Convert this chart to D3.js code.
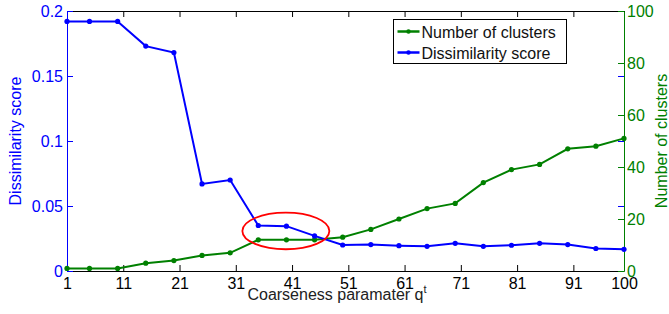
<!DOCTYPE html>
<html>
<head>
<meta charset="utf-8">
<script src="https://cdn.jsdelivr.net/npm/d3@7"></script>
<style>
  body { margin: 0; background: #fff; }
  svg text { font-family: "Liberation Sans", Arial, sans-serif; }
</style>
</head>
<body>
<div id="chart"></div>
<script>
// coarseness parameter values (x)
var qValues = [1, 5, 10, 15, 20, 25, 30, 35, 40, 45, 50, 55, 60, 65, 70, 75, 80, 85, 90, 95, 100];
// dissimilarity score (left axis)
var dissimilarity = [0.192, 0.192, 0.192, 0.173, 0.168, 0.067, 0.070, 0.035, 0.0345, 0.027, 0.020, 0.0203,
  0.0195, 0.019, 0.0213, 0.019, 0.0198, 0.0213, 0.0203, 0.0173, 0.0167];
// number of clusters (right axis)
var clusters = [1, 1, 1, 3, 4, 6, 7, 12, 12, 12, 13, 16, 20, 24, 26, 34, 39, 41, 47, 48, 51];

var xTicks = [1, 11, 21, 31, 41, 51, 61, 71, 81, 91, 100];
var leftTicks = [0, 0.05, 0.1, 0.15, 0.2];
var rightTicks = [0, 20, 40, 60, 80, 100];

var W = 669, H = 314;
var m = {left: 67, top: 11, right: 45, bottom: 43};
var w = W - m.left - m.right;
var h = H - m.top - m.bottom;

var blue = "#0000ff", green = "#008000";

var svg = d3.select("#chart").append("svg")
  .attr("width", W).attr("height", H);
var g = svg.append("g").attr("transform", "translate(" + m.left + "," + m.top + ")");

var x = d3.scaleLinear().domain([1, 100]).range([0, w]);
var yL = d3.scaleLinear().domain([0, 0.2]).range([h, 0]);
var yR = d3.scaleLinear().domain([0, 100]).range([h, 0]);

function styleAxis(sel, color) {
  sel.select(".domain").attr("stroke", color).attr("stroke-width", 1);
  sel.selectAll(".tick line").attr("stroke", color);
  sel.selectAll(".tick text").attr("fill", color).attr("font-size", 16)
    .attr("font-family", "Liberation Sans, Arial, sans-serif");
}

// top border with ticks
var topAxis = g.append("g")
  .call(d3.axisBottom(x).tickValues(xTicks).tickSize(6).tickSizeOuter(0).tickFormat(""));
styleAxis(topAxis, "#000");

// bottom axis
var bottomAxis = g.append("g").attr("transform", "translate(0," + h + ")")
  .call(d3.axisTop(x).tickValues(xTicks).tickSize(6).tickSizeOuter(0));
styleAxis(bottomAxis, "#000");
bottomAxis.selectAll(".tick text").attr("y", 18).attr("dy", 0);

// left axis mirrored on the right side
var leftMirror = g.append("g").attr("transform", "translate(" + w + ",0)")
  .call(d3.axisLeft(yL).tickValues(leftTicks).tickSize(6).tickSizeOuter(0).tickFormat(""));
styleAxis(leftMirror, blue);
leftMirror.select(".domain").remove();

// right axis
var rightAxis = g.append("g").attr("transform", "translate(" + w + ",0)")
  .call(d3.axisRight(yR).tickValues(rightTicks).tickSize(-6).tickSizeOuter(0).tickPadding(3));
styleAxis(rightAxis, green);
rightAxis.selectAll(".tick text").attr("x", 3);

// left axis
var leftAxis = g.append("g")
  .call(d3.axisRight(yL).tickValues(leftTicks).tickSize(6).tickSizeOuter(0)
    .tickFormat(function(d) { return d === 0 ? "0" : String(d); }));
styleAxis(leftAxis, blue);
leftAxis.selectAll(".tick text").attr("x", -4).attr("text-anchor", "end");

// lines
var lineL = d3.line().x(function(d, i) { return x(qValues[i]); }).y(function(d) { return yL(d); });
var lineR = d3.line().x(function(d, i) { return x(qValues[i]); }).y(function(d) { return yR(d); });

g.append("path").datum(clusters).attr("d", lineR)
  .attr("fill", "none").attr("stroke", green).attr("stroke-width", 2);
g.selectAll(".dotR").data(clusters).enter().append("circle")
  .attr("cx", function(d, i) { return x(qValues[i]); })
  .attr("cy", function(d) { return yR(d); })
  .attr("r", 2.6).attr("fill", green);

g.append("path").datum(dissimilarity).attr("d", lineL)
  .attr("fill", "none").attr("stroke", blue).attr("stroke-width", 2);
g.selectAll(".dotL").data(dissimilarity).enter().append("circle")
  .attr("cx", function(d, i) { return x(qValues[i]); })
  .attr("cy", function(d) { return yL(d); })
  .attr("r", 2.6).attr("fill", blue);

// red ellipse annotation
g.append("ellipse")
  .attr("cx", x(39.9)).attr("cy", yL(0.0308))
  .attr("rx", 43.5).attr("ry", 18.3)
  .attr("fill", "none").attr("stroke", "#ff0000").attr("stroke-width", 1.8);

// axis titles
svg.append("text")
  .attr("transform", "translate(21," + (m.top + h / 2) + ") rotate(-90)")
  .attr("text-anchor", "middle").attr("fill", blue).attr("font-size", 16)
  .text("Dissimilarity score");

svg.append("text")
  .attr("transform", "translate(667," + (m.top + h / 2) + ") rotate(-90)")
  .attr("text-anchor", "middle").attr("fill", green).attr("font-size", 16)
  .text("Number of clusters");

var xt = svg.append("text")
  .attr("x", 337).attr("y", 300)
  .attr("text-anchor", "middle").attr("fill", "#222").attr("font-size", 16);
xt.append("tspan").text("Coarseness paramater q");
xt.append("tspan").attr("dy", -7).attr("font-size", 11).text("t");

// legend
var legendItems = [
  {name: "Number of clusters", color: green},
  {name: "Dissimilarity score", color: blue}
];
var lg = svg.append("g").attr("transform", "translate(393.5,19.5)");
lg.append("rect").attr("width", 173).attr("height", 44)
  .attr("fill", "#fff").attr("stroke", "#000").attr("stroke-width", 1);
legendItems.forEach(function(it, i) {
  var yy = 12 + i * 21;
  lg.append("line").attr("x1", 4).attr("x2", 26).attr("y1", yy).attr("y2", yy)
    .attr("stroke", it.color).attr("stroke-width", 2.5);
  lg.append("circle").attr("cx", 15).attr("cy", yy).attr("r", 2.2).attr("fill", it.color);
  lg.append("text").attr("x", 28).attr("y", yy + 6)
    .attr("font-size", 16).attr("fill", "#111").text(it.name);
});
</script>
</body>
</html>
